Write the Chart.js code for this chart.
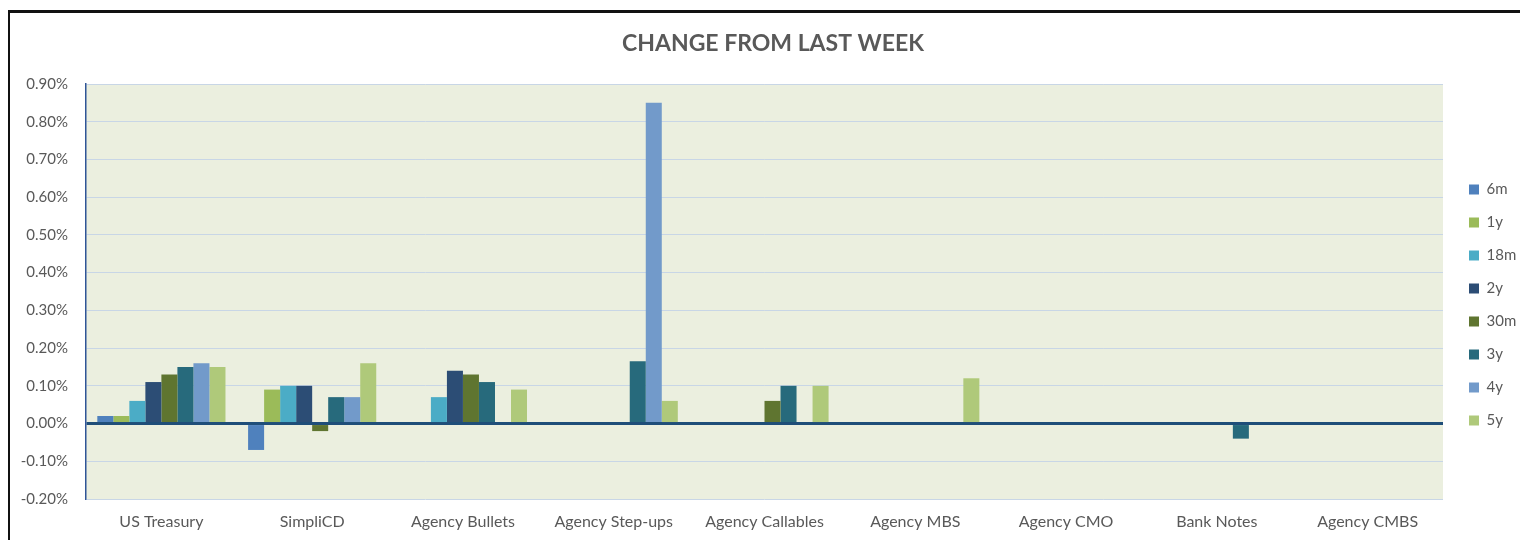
<!DOCTYPE html>
<html>
<head>
<meta charset="utf-8">
<script src="https://cdn.jsdelivr.net/npm/chart.js@4.4.1/dist/chart.umd.min.js"></script>
<style>
html,body{margin:0;padding:0;background:#fff;}
#wrap{position:relative;width:1520px;height:540px;overflow:hidden;}
#frame{position:absolute;left:8px;top:10px;width:1600px;height:600px;border-left:2px solid #111;border-top:3px solid #111;}
canvas{position:absolute;left:0;top:0;}
</style>
</head>
<body>
<div id="wrap"><div id="frame"></div><canvas id="c" width="1520" height="540"></canvas></div>
<script>
const categories = ['US Treasury','SimpliCD','Agency Bullets','Agency Step-ups','Agency Callables','Agency MBS','Agency CMO','Bank Notes','Agency CMBS'];
const seriesNames = ['6m','1y','18m','2y','30m','3y','4y','5y'];
const s6m  = [0.02,-0.07,0,0,0,0,0,0,0];
const s1y  = [0.02,0.09,0,0,0,0,0,0,0];
const s18m = [0.06,0.10,0.07,0,0,0,0,0,0];
const s2y  = [0.11,0.10,0.14,0,0,0,0,0,0];
const s30m = [0.13,-0.02,0.13,0,0.06,0,0,0,0];
const s3y  = [0.15,0.07,0.11,0.165,0.10,0,0,-0.04,0];
const s4y  = [0.16,0.07,0,0.85,0,0,0,0,0];
const s5y  = [0.15,0.16,0.09,0.06,0.10,0.12,0,0,0];
const yTicks = [-0.2,-0.1,0,0.1,0.2,0.3,0.4,0.5,0.6,0.7,0.8,0.9];

const colors = ['#4f81bd','#9bbb59','#4bacc6','#2c4d75','#5f7530','#276a7c','#729aca','#afc97a'];
const allSeries = [s6m,s1y,s18m,s2y,s30m,s3y,s4y,s5y];

const bgPlugin = {
  id:'bg',
  beforeLayout(chart){
    const lg = chart.legend;
    if (lg && !lg._fixedW){
      const f = lg.fit.bind(lg);
      lg.fit = function(){ f(); this.width = 77; };
      lg._fixedW = true;
    }
  },
  afterLayout(chart){
    const lg = chart.legend;
    if (lg){
      const dx = 1469 - (lg.left + lg.options.labels.padding);
      lg.left += dx; lg.right += dx;
      lg.top += 35; lg.bottom += 35;
    }
    const tb = chart.titleBlock;
    if (tb){ tb.left += 8; tb.right += 8; }
  },
  beforeDraw(chart){
    const {ctx, chartArea:a} = chart;
    ctx.save();
    ctx.fillStyle = '#ebefdf';
    ctx.fillRect(a.left, a.top, a.right-a.left, a.bottom-a.top);
    ctx.restore();
  }
};

const FONT = "Lato, 'Open Sans', sans-serif";
new Chart(document.getElementById('c'), {
  type:'bar',
  data:{
    labels: categories,
    datasets: seriesNames.map((n,i)=>({
      label:n, data:allSeries[i], backgroundColor:colors[i],
      borderWidth:0, barPercentage:1.0, categoryPercentage:0.85
    }))
  },
  options:{
    responsive:false,
    animation:false,
    layout:{padding:{left:10,right:0,top:0,bottom:0}},
    plugins:{
      title:{display:true,text:'CHANGE FROM LAST WEEK',color:'#595959',
        font:{family:FONT,size:23,weight:'bold',lineHeight:1.2},padding:{top:30,bottom:26.4}},
      legend:{position:'right',align:'center',
        labels:{boxWidth:10,boxHeight:10,padding:18,color:'#595959',font:{family:FONT,size:15}}},
      tooltip:{enabled:false}
    },
    scales:{
      x:{
        grid:{display:false,drawTicks:false},
        border:{display:false},
        ticks:{color:'#595959',font:{family:FONT,size:16},padding:13,maxRotation:0},
        afterFit(s){s.height=41;}
      },
      y:{
        min:-0.2,max:0.9,
        afterBuildTicks(s){s.ticks = yTicks.map(v=>({value:v}));},
        ticks:{color:'#595959',font:{family:FONT,size:15},padding:18,
          callback:v=>Number(v).toFixed(2)+'%'},
        grid:{
          color:c=>Math.abs(c.tick.value)<1e-9?'#1f4e79':'#c8d6e6',
          lineWidth:c=>Math.abs(c.tick.value)<1e-9?3:1,
          drawTicks:false
        },
        border:{display:true,color:'#2f5597',width:1.5},
        afterFit(s){s.width=76;}
      }
    }
  },
  plugins:[bgPlugin]
});
</script>
</body>
</html>
